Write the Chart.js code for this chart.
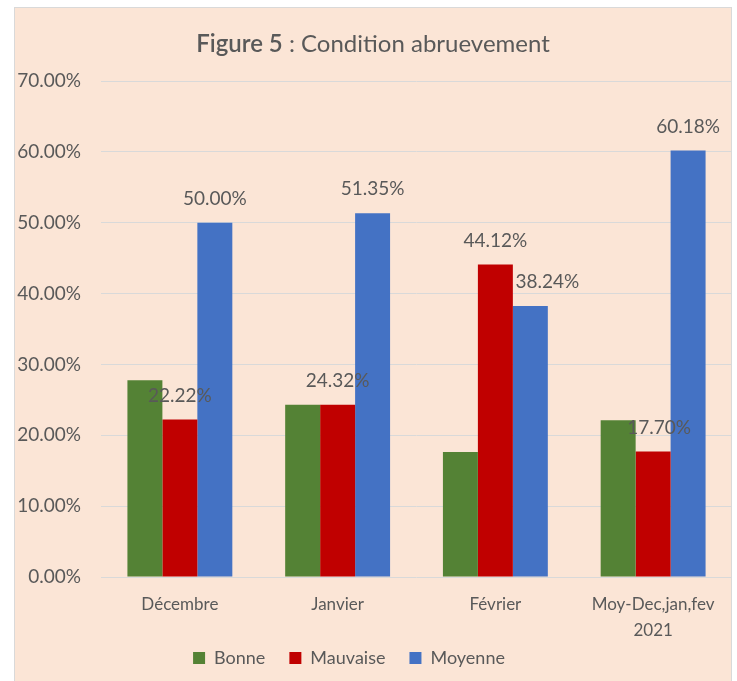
<!DOCTYPE html>
<html>
<head>
<meta charset="utf-8">
<script src="https://cdn.jsdelivr.net/npm/chart.js@4"></script>
<style>
  html, body { margin: 0; padding: 0; background: #ffffff; }
  body { width: 737px; height: 681px; position: relative; overflow: hidden; }
  #frame { position: absolute; left: 14px; top: 7px; width: 718px; height: 690px;
           background: #FBE5D6; border: 1px solid #D9D9D9; box-sizing: border-box; }
  #wrap { position: absolute; left: 0; top: 0; width: 737px; height: 681px; }
</style>
</head>
<body>
<div id="frame"></div>
<div id="wrap"><canvas id="c" width="737" height="681"></canvas></div>
<script>
const categories = ["Décembre", "Janvier", "Février", ["Moy-Dec,jan,fev", "2021"]];
const bonne = [27.78, 24.32, 17.65, 22.12];
const mauvaise = [22.22, 24.32, 44.12, 17.70];
const moyenne = [50.00, 51.35, 38.24, 60.18];
const seriesNames = ["Bonne", "Mauvaise", "Moyenne"];
const titleBold = "Figure 5";
const titleRest = " : Condition abruevement";
const yTicks = { min: 0, max: 70, step: 10 };

const FONT = "Lato, 'Open Sans', sans-serif";
const GREY = "#595959";

// which labels are shown (Excel showed only some), and their nudges
const labelShown = [[false,false,false,false],[true,true,true,true],[true,true,true,true]];
const labelNudgeX = [[0,0,0,0],[0,0,0,6],[0,0,17,0]];

const LEGEND_PAD = 24;

const titlePlugin = {
  id: 'mixedTitle',
  afterDraw(chart) {
    const ctx = chart.ctx;
    ctx.save();
    ctx.textBaseline = 'middle';
    ctx.fillStyle = GREY;
    const size = 24;
    ctx.font = "600 " + size + "px " + FONT;
    const w1 = ctx.measureText(titleBold).width;
    ctx.font = size + "px " + FONT;
    const w2 = ctx.measureText(titleRest).width;
    const cx = 373;
    let x = cx - (w1 + w2) / 2;
    const y = 44;
    ctx.textAlign = 'left';
    ctx.font = "600 " + size + "px " + FONT;
    ctx.fillText(titleBold, x, y);
    ctx.font = size + "px " + FONT;
    ctx.fillText(titleRest, x + w1, y);
    ctx.restore();
  }
};

const legendShift = {
  id: 'legendShift',
  afterLayout(chart) {
    const lg = chart.legend;
    if (!lg) return;
    const dy = (658 - LEGEND_PAD - 9) - lg.top;
    lg.top += dy; lg.bottom += dy;
    const dx = 349 - (lg.left + lg.right) / 2;
    lg.left += dx; lg.right += dx;
  }
};

const labelPlugin = {
  id: 'barLabels',
  afterDatasetsDraw(chart) {
    const ctx = chart.ctx;
    ctx.save();
    ctx.font = "19px " + FONT;
    ctx.fillStyle = GREY;
    ctx.textAlign = 'center';
    ctx.textBaseline = 'middle';
    chart.data.datasets.forEach((ds, di) => {
      const meta = chart.getDatasetMeta(di);
      meta.data.forEach((bar, i) => {
        if (!labelShown[di][i]) return;
        const v = ds.data[i];
        ctx.fillText(v.toFixed(2) + '%', bar.x + labelNudgeX[di][i], bar.y - 24);
      });
    });
    ctx.restore();
  }
};

new Chart(document.getElementById('c'), {
  type: 'bar',
  data: {
    labels: categories,
    datasets: [
      { label: seriesNames[0], data: bonne, backgroundColor: '#548235' },
      { label: seriesNames[1], data: mauvaise, backgroundColor: '#C00000' },
      { label: seriesNames[2], data: moyenne, backgroundColor: '#4472C4' }
    ]
  },
  options: {
    responsive: false,
    animation: false,
    devicePixelRatio: 1,
    layout: { padding: { top: 81, right: 5, bottom: -16, left: 0 } },
    datasets: { bar: { categoryPercentage: 0.665, barPercentage: 1.0 } },
    plugins: {
      title: { display: false },
      tooltip: { enabled: false },
      legend: {
        position: 'bottom',
        labels: {
          font: { family: FONT, size: 18 },
          color: GREY,
          boxWidth: 12,
          boxHeight: 12,
          padding: LEGEND_PAD
        }
      }
    },
    scales: {
      x: {
        grid: { display: false, drawTicks: false },
        border: { display: false },
        ticks: {
          font: { family: FONT, size: 17, lineHeight: 1.53 },
          color: GREY,
          padding: 15,
          maxRotation: 0,
          autoSkip: false
        },
        afterFit(scale) { scale.height = 68; }
      },
      y: {
        min: yTicks.min,
        max: yTicks.max,
        grid: { color: '#D9D9D9', lineWidth: 1, drawTicks: false },
        border: { display: false },
        ticks: {
          stepSize: yTicks.step,
          padding: 20,
          font: { family: FONT, size: 19 },
          color: GREY,
          callback: v => v.toFixed(2) + '%'
        },
        afterFit(scale) { scale.width = 101; }
      }
    }
  },
  plugins: [labelPlugin, titlePlugin, legendShift]
});
</script>
</body>
</html>
